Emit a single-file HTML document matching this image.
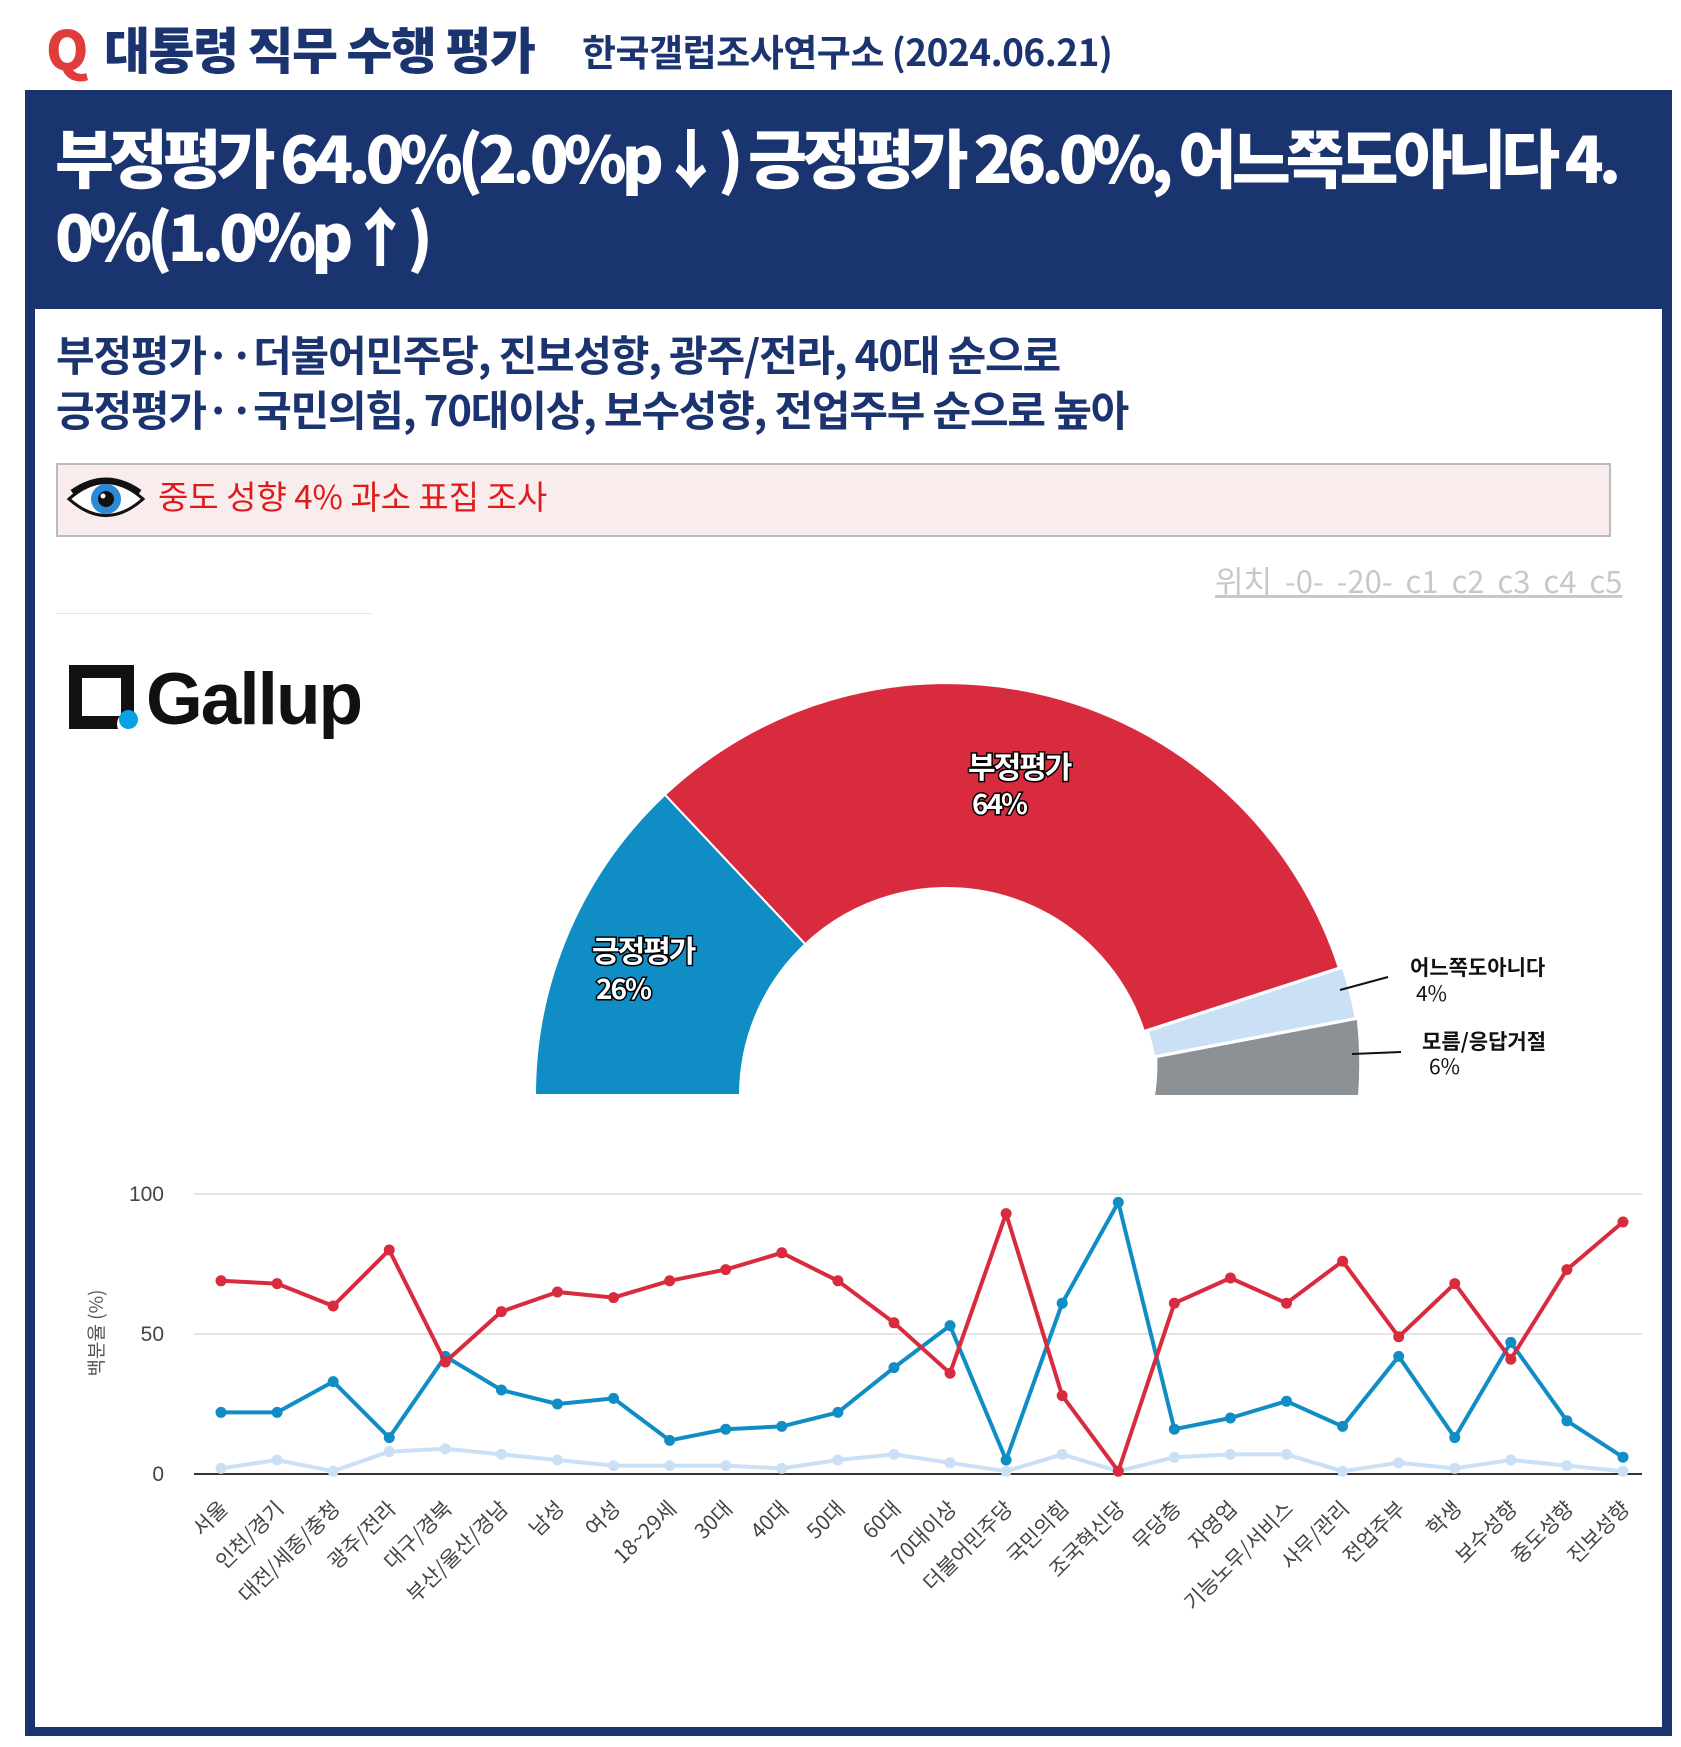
<!DOCTYPE html>
<html><head><meta charset="utf-8">
<style>
body{margin:0;width:1681px;height:1747px;background:#fff;position:relative;overflow:hidden;font-family:"Liberation Sans","Noto Sans CJK KR",sans-serif}
.a{position:absolute;white-space:nowrap}
.k{font-family:"Noto Sans CJK KR","Liberation Sans",sans-serif}
</style></head><body>
<div class="a k" style="left:46px;top:14px;font-size:54px;font-weight:900;color:#e03c3c;line-height:66px">Q</div>
<div class="a k" style="left:104px;top:16px;font-size:50px;font-weight:900;color:#1b3470;line-height:64px;letter-spacing:-1.5px">대통령 직무 수행 평가</div>
<div class="a k" style="left:582px;top:24px;font-size:37px;font-weight:700;color:#1b3470;line-height:52px;letter-spacing:-0.5px">한국갤럽조사연구소 (2024.06.21)</div>

<div class="a" style="left:25px;top:90px;width:1647px;height:1646px;background:#1a3470"></div>
<div class="a" style="left:35px;top:309px;width:1627px;height:1418px;background:#fff"></div>

<div class="a k" style="left:55px;top:116px;font-size:64px;font-weight:900;color:#fff;line-height:80px;letter-spacing:-5px">부정평가 64.0%(2.0%p↓) 긍정평가 26.0%, 어느쪽도아니다 4.</div>
<div class="a k" style="left:55px;top:194px;font-size:64px;font-weight:900;color:#fff;line-height:80px;letter-spacing:-5px">0%(1.0%p↑)</div>

<div class="a k" style="left:56px;top:327px;font-size:42px;font-weight:700;color:#1b3470;line-height:54px;letter-spacing:-1.2px">부정평가··더불어민주당, 진보성향, 광주/전라, 40대 순으로</div>
<div class="a k" style="left:56px;top:382px;font-size:42px;font-weight:700;color:#1b3470;line-height:54px;letter-spacing:-1.2px">긍정평가··국민의힘, 70대이상, 보수성향, 전업주부 순으로 높아</div>

<div class="a" style="left:56px;top:463px;width:1551px;height:70px;background:#f9ecec;border:2px solid #bbb"></div>
<svg class="a" style="left:66px;top:472px" width="80" height="54" viewBox="0 0 80 54">
<path d="M3 27 Q40 -6 77 27 Q40 60 3 27Z" fill="#fff" stroke="#111" stroke-width="3"/>
<path d="M6 20 Q40 -4 74 20" fill="none" stroke="#111" stroke-width="5"/>
<circle cx="40" cy="27" r="15" fill="#2a8ad8"/><circle cx="40" cy="27" r="8" fill="#111"/><circle cx="37" cy="24" r="2.5" fill="#fff"/>
</svg>
<div class="a k" style="left:158px;top:472px;font-size:33px;color:#e01a1a;line-height:46px;letter-spacing:0px">중도 성향 4% 과소 표집 조사</div>

<div class="a k" style="left:1215px;top:560px;font-size:31px;color:#c8c8c8;line-height:40px;text-decoration:underline;word-spacing:6px">위치 -0- -20- c1 c2 c3 c4 c5</div>
<div class="a" style="left:56px;top:613px;width:316px;height:1px;background:#e6e6e6"></div>

<div class="a" style="left:69px;top:665px;width:65px;height:64px;background:#111"></div>
<div class="a" style="left:82px;top:678px;width:39px;height:38px;background:#fff"></div>
<div class="a" style="left:117px;top:712px;width:24px;height:24px;border-radius:50%;background:#fff"></div>
<div class="a" style="left:119px;top:710px;width:19px;height:19px;border-radius:50%;background:#0aa0e8"></div>
<div class="a" style="left:146px;top:650px;font-size:73px;font-weight:700;color:#111;line-height:100px;letter-spacing:-2px">Gallup</div>

<svg class="a" style="left:0;top:0" width="1681" height="1747" id="s">
<g stroke="#fff" stroke-width="2" stroke-linejoin="round">
<path d="M535 1095 A412 412 0 0 1 665 794.7 L805.3 944.1 A207 207 0 0 0 740 1095Z" fill="#118dc6"/>
<path d="M665 794.7 A412 412 0 0 1 1338.8 967.7 L1143.9 1031 A207 207 0 0 0 805.3 944.1Z" fill="#d92b3e"/>
<g transform="translate(4,0)"><path d="M1338.8 967.7 A412 412 0 0 1 1351.7 1017.8 L1150.3 1056.2 A207 207 0 0 0 1143.9 1031Z" fill="#c9e0f5"/></g>
<g transform="translate(6,1)"><path d="M1351.7 1017.8 A412 412 0 0 1 1353 1095 L1148 1095 A207 207 0 0 0 1150.3 1056.2Z" fill="#8c9196"/></g>
</g>
<g font-family="Noto Sans CJK KR, sans-serif" font-size="30" font-weight="700" fill="#fff" stroke="#000" stroke-width="3" paint-order="stroke" letter-spacing="-2">
<text x="968" y="778">부정평가</text><text x="972" y="814" font-size="28">64%</text>
<text x="592" y="962">긍정평가</text><text x="596" y="999" font-size="28">26%</text>
</g>
<g font-family="Noto Sans CJK KR, sans-serif" font-size="21" fill="#111">
<text x="1410" y="975" font-weight="700">어느쪽도아니다</text><text x="1416" y="1001">4%</text>
<text x="1422" y="1049" font-weight="700">모름/응답거절</text><text x="1429" y="1074">6%</text>
</g>
<line x1="1340" y1="990" x2="1388" y2="977" stroke="#111" stroke-width="2"/>
<line x1="1352" y1="1054" x2="1401" y2="1052" stroke="#111" stroke-width="2"/>
<line x1="194" y1="1194" x2="1642" y2="1194" stroke="#e4e4e4" stroke-width="2"/>
<line x1="194" y1="1334" x2="1642" y2="1334" stroke="#e4e4e4" stroke-width="2"/>
<line x1="194" y1="1474" x2="1642" y2="1474" stroke="#333" stroke-width="2"/>
<g font-family="Liberation Sans, sans-serif" font-size="21" fill="#444" text-anchor="end">
<text x="164" y="1201">100</text><text x="164" y="1341">50</text><text x="164" y="1481">0</text>
</g>
<text transform="translate(103,1333) rotate(-90)" text-anchor="middle" font-family="Noto Sans CJK KR, sans-serif" font-size="19" fill="#555">백분율 (%)</text>
</svg>
<script>
var cats=["서울","인천/경기","대전/세종/충청","광주/전라","대구/경북","부산/울산/경남","남성","여성","18~29세","30대","40대","50대","60대","70대이상","더불어민주당","국민의힘","조국혁신당","무당층","자영업","기능노무/서비스","사무/관리","전업주부","학생","보수성향","중도성향","진보성향"];
var R=[69,68,60,80,40,58,65,63,69,73,79,69,54,36,93,28,1,61,70,61,76,49,68,41,73,90];
var B=[22,22,33,13,42,30,25,27,12,16,17,22,38,53,5,61,97,16,20,26,17,42,13,47,19,6];
var L=[2,5,1,8,9,7,5,3,3,3,2,5,7,4,1,7,1,6,7,7,1,4,2,5,3,1];
var s=document.getElementById('s'),h='';
function X(i){return 221+56.08*i}function Y(v){return 1474-2.8*v}
function ser(d,c){var p=d.map(function(v,i){return X(i).toFixed(1)+','+Y(v).toFixed(1)}).join(' ');
h+='<polyline points="'+p+'" fill="none" stroke="'+c+'" stroke-width="4" stroke-linejoin="round"/>';
d.forEach(function(v,i){h+='<circle cx="'+X(i)+'" cy="'+Y(v)+'" r="5.5" fill="'+c+'"/>'});}
ser(L,'#c9e0f5');ser(B,'#118dc6');ser(R,'#d92b3e');
cats.forEach(function(c,i){h+='<text transform="translate('+(X(i)+8)+',1510) rotate(-45)" text-anchor="end" font-family="Noto Sans CJK KR, sans-serif" font-size="21" fill="#444">'+c+'</text>'});
s.insertAdjacentHTML('beforeend',h);
</script>
</body></html>
